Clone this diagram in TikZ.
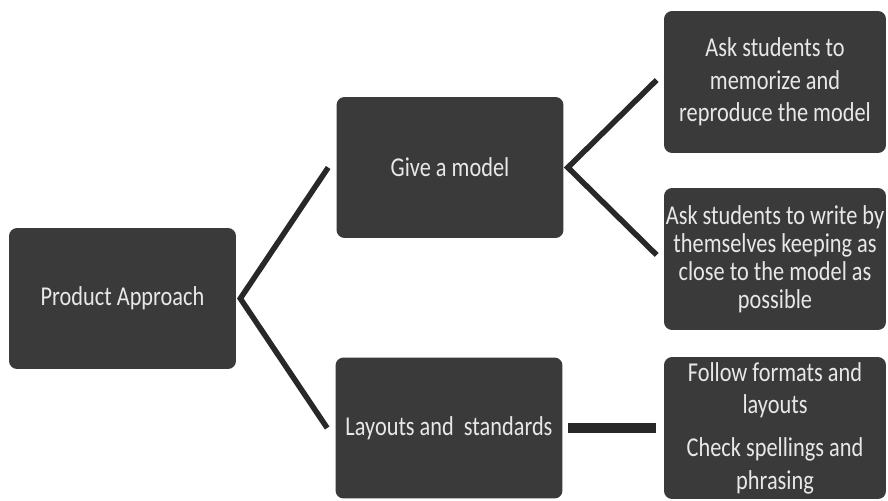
\documentclass[tikz,border=0pt]{standalone}
\usepackage{fontspec}
\setmainfont{Carlito}[FakeStretch=0.82]
\usetikzlibrary{positioning,calc}
\definecolor{boxgray}{RGB}{58,58,58}
\definecolor{textgray}{RGB}{232,232,232}
\definecolor{linegray}{RGB}{40,40,40}
\tikzset{
  mapnode/.style={fill=boxgray,rounded corners=1.6mm,minimum width=4.54cm,minimum height=2.82cm,
    align=center,inner sep=1pt,text=textgray,font=\fontsize{15.5}{18.5}\selectfont},
  leafnode/.style={mapnode,minimum width=4.44cm,minimum height=2.84cm},
  branch/.style={line width=1.1mm,draw=linegray,line join=miter},
  link/.style={line width=1.9mm,draw=linegray}
}

\begin{document}
\begin{tikzpicture}[x=0.02cm,y=-0.02cm]
  \useasboundingbox (0,0) rectangle (888,500);
  \node[mapnode] (prod) at (122.5,298.5) {Product Approach};
  \node[mapnode] (give) at (450,167.5) {Give a model};
  \node[mapnode] (lay) at (449,428) {Layouts and\ \ standards};
  \node[leafnode] (memo) at (775,82) {Ask students to\\memorize and\\reproduce the model};
  \node[leafnode,font=\fontsize{15.5}{15.9}\selectfont] (write) at (775,259) {Ask students to write by\\themselves keeping as\\close to the model as\\possible};
  \node[leafnode] (form) at (775,428) {Follow formats and\\layouts\\[6pt]Check spellings and\\phrasing};
  \draw[branch] ([xshift=-0.16cm]give.west) -- ([xshift=0.08cm]prod.east) -- ([xshift=-0.16cm]lay.west);
  \draw[branch] ([xshift=-0.14cm,yshift=0.04cm]memo.west) -- ([xshift=0.08cm]give.east) -- ([xshift=-0.14cm,yshift=0.08cm]write.west);
  \draw[link] ([xshift=0.1cm]lay.east) -- ([xshift=-0.16cm]form.west);
\end{tikzpicture}
\end{document}
